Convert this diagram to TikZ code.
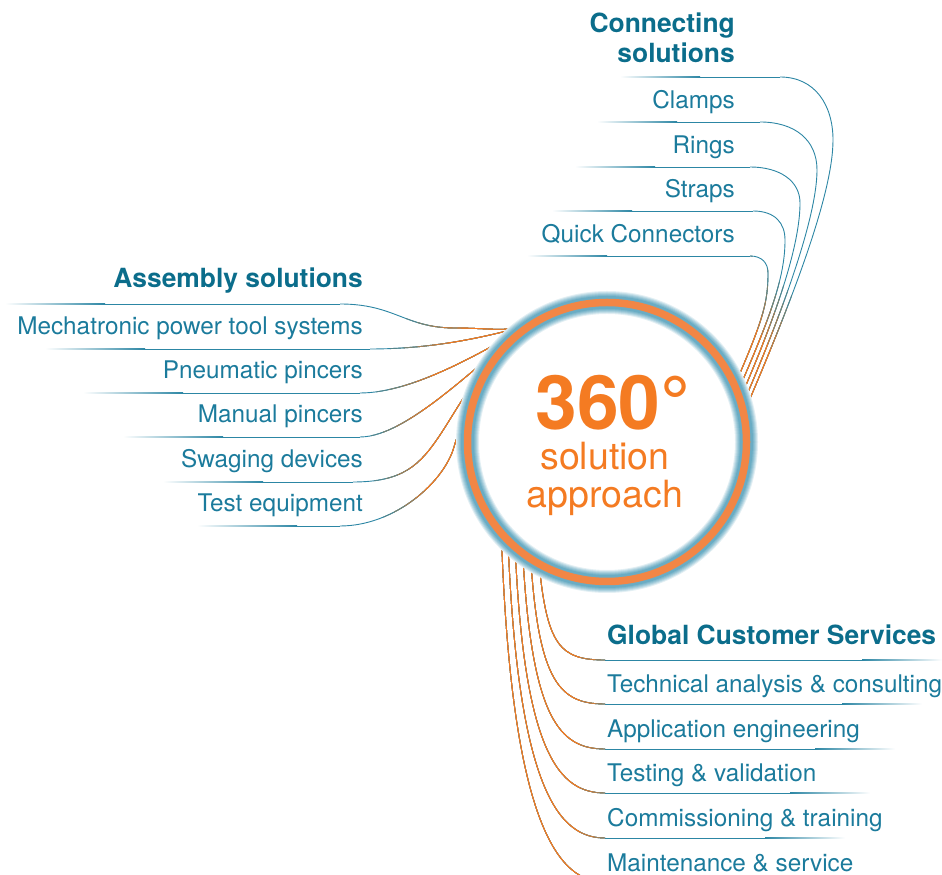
\documentclass[tikz,border=0pt]{standalone}
\usepackage{fontspec}
\setmainfont{TeX Gyre Heros}
\definecolor{rsteal}{HTML}{1B7B9C}
\definecolor{rshead}{HTML}{0B6D8B}
\definecolor{rswire}{HTML}{2C86A4}
\definecolor{rsorange}{HTML}{F47B22}
\definecolor{rsring}{HTML}{F28645}
\definecolor{rsglow}{HTML}{6AACC4}

\newcommand\leftwires{
  (ak1) .. controls +(55,0) and +(-50,0) .. (455,547) .. controls +(35,0) and +(-25,-8) .. (hub.123)
  (ak2) .. controls +(60,0) and +(-50,-14) .. (hub.123)
  (ak3) .. controls +(55,0) and +(-45,-25) .. (hub.123)
  (ak4) .. controls +(50,0) and +(-45,-30) .. (hub.123)
  (ak5) .. controls +(50,0) and +(-20,-30) .. (440,440) .. controls +(20,30) and +(-45,-29) .. (hub.123)
  (ak6) .. controls +(55,0) and +(-10,-35) .. (454,428) .. controls +(10,35) and +(-35,-23) .. (hub.123)
}
\newcommand\rightwires{
  (ck1) .. controls +(35,0) and +(0,35) .. (833,735) .. controls +(0,-55) and +(47,110) .. (hub.12)
  (ck2) .. controls +(35,0) and +(0,30) .. (817,705) .. controls +(0,-45) and +(43,100) .. (hub.15)
  (ck3) .. controls +(30,0) and +(0,22) .. (800,672) .. controls +(0,-40) and +(39,90) .. (hub.18)
  (ck4) .. controls +(22,0) and +(0,17) .. (785,635) .. controls +(0,-35) and +(35,80) .. (hub.21)
  (ck5) .. controls +(12,0) and +(0,10) .. (768,602) .. controls +(0,-30) and +(28,65) .. (hub.24)
}
\newcommand\servicewires{
  (hub.241) .. controls +(8,-81) and +(-45,0) .. (gk1)
  (hub.237) .. controls +(8,-123) and +(-45,0) .. (gk2)
  (hub.233) .. controls +(9,-166) and +(-45,0) .. (gk3)
  (hub.229) .. controls +(9,-208) and +(-45,0) .. (gk4)
  (hub.225) .. controls +(10,-252) and +(-45,0) .. (gk5)
  (hub.221) .. controls +(10,-296) and +(-45,0) .. (gk6)
}

\begin{document}
\begin{tikzpicture}[x=1pt, y=1pt,
  item/.style={inner sep=0pt, text=rsteal, font=\fontsize{24.3}{28}\selectfont},
  head/.style={inner sep=0pt, text=rshead, font=\fontsize{26.4}{30}\selectfont\bfseries},
  wire/.style={draw=rswire, line width=0.9pt},
  big/.style={inner sep=0pt, text=rsorange, font=\fontsize{37.5}{40}\selectfont}]
  \clip (0,0) rectangle (942,875);
  \node[circle, minimum size=280pt, inner sep=0pt, outer sep=0pt] (hub) at (607,433) {};

  \foreach \i/\y/\xs/\xk in {1/571/5/340, 2/526/45/370, 3/482/83/360, 4/438/123/360, 5/393/163/353, 6/349/197/340} {
    \coordinate (as\i) at (\xs,\y);
    \coordinate (ak\i) at (\xk,\y);
    \shade[left color=white, right color=rswire] ([yshift=-0.45pt]as\i) rectangle ([xshift=100pt, yshift=0.45pt]as\i);
    \draw[wire] ([xshift=100pt]as\i) -- (ak\i);
  }
  \foreach \j/\y/\xs/\xk in {1/798/620/780, 2/753/597/760, 3/708/575/750, 4/664/552/753, 5/619/527/750} {
    \coordinate (cs\j) at (\xs,\y);
    \coordinate (ck\j) at (\xk,\y);
    \shade[left color=white, right color=rswire] ([yshift=-0.45pt]cs\j) rectangle ([xshift=80pt, yshift=0.45pt]cs\j);
    \draw[wire] ([xshift=80pt]cs\j) -- (ck\j);
  }
  \foreach \k/\y/\xe in {1/215/942, 2/171/922, 3/126/895, 4/82/870, 5/37/845, 6/-7/820} {
    \coordinate (gk\k) at (605,\y);
    \coordinate (ge\k) at (\xe,\y);
    \shade[left color=rswire, right color=white] ([xshift=-80pt, yshift=-0.45pt]ge\k) rectangle ([yshift=0.45pt]ge\k);
    \draw[wire] (gk\k) -- ([xshift=-80pt]ge\k);
  }

  \draw[wire] \leftwires \rightwires \servicewires;
  \foreach \r/\p in {236/20, 224/40, 212/60, 200/80, 188/100} {
    \begin{scope}
      \clip (hub.center) circle (\r);
      \draw[wire, draw=rsorange!\p!rswire] \leftwires \rightwires;
    \end{scope}
  }
  \foreach \x/\p in {640/20, 625/40, 610/60, 595/80, 580/100} {
    \begin{scope}
      \clip (0,-20) rectangle (\x,400);
      \draw[wire, draw=rsorange!\p!rswire] \servicewires;
    \end{scope}
  }

  \foreach \w/\p in {23/18, 21/38, 19/56, 17/72, 15/86, 13/100}
    \draw[draw=rsglow!\p!white, line width=\w pt] (hub.center) circle (139.5);
  \draw[draw=rsring, line width=7.5pt] (hub.center) circle (139.5);

  \node[inner sep=0pt, text=rsorange, font=\fontsize{75}{80}\selectfont\bfseries, anchor=base] (deg) at (613,445) {360°};
  \node[big, anchor=base] (sol) at (605,405) {solution};
  \node[big, anchor=base] (app) at (605,367) {approach};

  \node[head, anchor=base east] (asm) at (363,587) {Assembly solutions};
  \node[item, anchor=base east] (mech) at (363,540) {Mechatronic power tool systems};
  \node[item, anchor=base east] (pneu) at (363,496) {Pneumatic pincers};
  \node[item, anchor=base east] (manu) at (363,452) {Manual pincers};
  \node[item, anchor=base east] (swag) at (363,407) {Swaging devices};
  \node[item, anchor=base east] (test) at (363,363) {Test equipment};

  \node[head, anchor=base east, align=right] (conn) at (735,812) {Connecting\\solutions};
  \node[item, anchor=base east] (clamp) at (735,766) {Clamps};
  \node[item, anchor=base east] (ring) at (735,721) {Rings};
  \node[item, anchor=base east] (strap) at (735,677) {Straps};
  \node[item, anchor=base east] (quick) at (735,632) {Quick Connectors};

  \node[head, anchor=base west] (gcs) at (607,230) {Global Customer Services};
  \node[item, anchor=base west] (tech) at (607,182) {Technical analysis \& consulting};
  \node[item, anchor=base west] (appl) at (607,137) {Application engineering};
  \node[item, anchor=base west] (valid) at (607,93) {Testing \& validation};
  \node[item, anchor=base west] (comm) at (607,48) {Commissioning \& training};
  \node[item, anchor=base west] (maint) at (607,3) {Maintenance \& service};
\end{tikzpicture}
\end{document}
